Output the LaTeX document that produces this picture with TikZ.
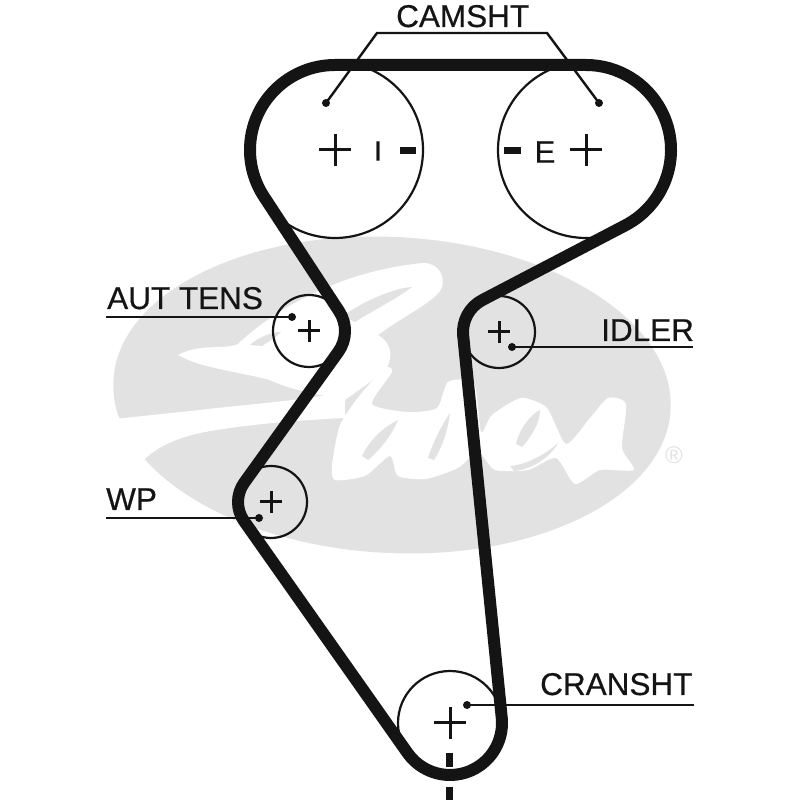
\documentclass[tikz,border=0pt]{standalone}
\usepackage{fontspec}
\setmainfont{Liberation Sans}
\newfontfamily\partfont[FakeBold=0.5]{Liberation Sans}
\usetikzlibrary{calc}
\definecolor{logogrey}{RGB}{226, 226, 226}
\definecolor{inkblack}{RGB}{20, 20, 20}
\newcommand{\crossmark}[2]{\draw[markline] ([xshift=-#2pt]#1.center) -- ([xshift=#2pt]#1.center) ([yshift=-#2pt]#1.center) -- ([yshift=#2pt]#1.center);}
\tikzset{
    pulley/.style={draw=inkblack, circle, line width=2.2pt, inner sep=0pt, outer sep=0pt},
    beltline/.style={draw=inkblack, line width=12pt, line join=round},
    markline/.style={draw=inkblack, line width=3pt},
    leader/.style={draw=inkblack, line width=2.4pt},
    leaderdot/.style={circle, fill=inkblack, inner sep=0pt, minimum size=8pt},
    partlabel/.style={anchor=base west, inner sep=0pt, text=inkblack, font=\partfont\fontsize{31.5}{31.5}\selectfont},
    sidemark/.style={draw=inkblack, line width=7pt}
}
\begin{document}
\begin{tikzpicture}[x=1pt, y=1pt]
    \useasboundingbox[fill=white] (0,0) rectangle (800,800);

    \fill[logogrey, rotate around={-3:(392,405)}] (392,405) ellipse [x radius=279pt, y radius=158pt];
    \begin{scope}[shift={(0,800)}, yscale=-1]
        \fill[white] (178,355) .. controls (200,343) and (225,350) .. (238,344)
            .. controls (265,318) and (330,272) .. (423,263)
            .. controls (440,263) and (445,278) .. (442,287)
            .. controls (438,300) and (405,315) .. (378,335)
            .. controls (395,345) and (392,362) .. (384,372)
            -- (345,400) .. controls (320,395) and (290,390) .. (270,380)
            .. controls (240,372) and (200,368) .. (178,355) -- cycle;
        \fill[logogrey] (343,316) .. controls (365,300) and (395,288) .. (412,287)
            .. controls (395,300) and (370,312) .. (355,322) -- cycle;
        \fill[logogrey] (250,345) .. controls (258,338) and (270,332) .. (281,332)
            .. controls (275,338) and (268,342) .. (262,346) -- cycle;
        \fill[white] (105,420) -- (200,410) .. controls (240,405) and (290,402) .. (345,392)
            -- (345,418) .. controls (300,420) and (240,425) .. (200,433)
            .. controls (170,440) and (150,450) .. (135,470) -- (105,470) -- cycle;
        \fill[white] plot[smooth cycle, tension=0.4] coordinates {
            (385,368) (360,395) (340,425) (332,465) (335,480) (365,476) (390,456)
            (398,476) (426,479) (458,468) (478,452) (495,470) (528,470) (556,458)
            (575,484) (600,470) (634,470) (622,448) (626,404) (608,398) (590,418)
            (566,444) (547,408) (521,398) (492,415) (481,432) (474,383) (448,382)
            (437,408) (408,412) (372,404) (392,372)};
        \fill[logogrey] (362,456) .. controls (370,440) and (382,428) .. (398,420)
            .. controls (392,435) and (380,450) .. (368,460) -- cycle;
        \fill[logogrey] (428,458) .. controls (434,440) and (442,425) .. (450,413)
            .. controls (448,430) and (442,448) .. (434,460) -- cycle;
        \fill[logogrey] (516,444) .. controls (520,428) and (530,415) .. (540,410)
            .. controls (540,424) and (530,438) .. (522,447) -- cycle;
        \fill[logogrey] (510,466) .. controls (525,465) and (545,455) .. (558,443)
            .. controls (550,458) and (530,470) .. (514,471) -- cycle;
    \end{scope}
    \node[text=logogrey, font=\fontsize{24}{24}\selectfont, inner sep=0pt] (regmark) at (674,345) {®};

    \node[pulley, minimum size=176pt] (camI) at (335,650) {};
    \node[pulley, minimum size=176pt] (camE) at (586,650) {};
    \node[pulley, minimum size=72pt] (tens) at (309,469) {};
    \node[pulley, minimum size=72pt] (idler) at (499,468) {};
    \node[pulley, minimum size=72pt] (wpump) at (271,298) {};
    \node[pulley, minimum size=104pt] (crank) at (450,77) {};

    \draw[beltline] ([shift={(90:85)}]camI.center) arc[start angle=90, end angle=213.25, radius=85pt]
        -- ([shift={(33.25:36)}]tens.center) arc[start angle=33.25, end angle=-35.73, radius=36pt]
        -- ([shift={(144.27:33)}]wpump.center) arc[start angle=144.27, end angle=215.17, radius=33pt]
        -- ([shift={(215.17:52)}]crank.center) arc[start angle=215.17, end angle=365.76, radius=52pt]
        -- ([shift={(185.76:36)}]idler.center) arc[start angle=185.76, end angle=117.59, radius=36pt]
        -- ([shift={(-62.41:85)}]camE.center) arc[start angle=-62.41, end angle=90, radius=85pt]
        -- cycle;

    \crossmark{camI}{16}
    \crossmark{camE}{16}
    \crossmark{tens}{11}
    \crossmark{idler}{11}
    \crossmark{wpump}{11}
    \crossmark{crank}{16}

    \node[partlabel] (camshtlabel) at (396,773) {CAMSHT};
    \node[partlabel] (tenslabel) at (107,491) {AUT TENS};
    \node[partlabel] (wplabel) at (106,290) {WP};
    \node[partlabel] (idlerlabel) at (601,459) {IDLER};
    \node[partlabel] (cranklabel) at (540,105) {CRANSHT};
    \node[anchor=center, inner sep=0pt, text=inkblack, font=\partfont\fontsize{28}{28}\selectfont] (camIletter) at (378,649) {I};
    \node[anchor=center, inner sep=0pt, text=inkblack, font=\partfont\fontsize{31}{31}\selectfont] (camEletter) at (545,648) {E};

    \draw[sidemark] (400,649) -- (416,649);
    \draw[sidemark] (504,649) -- (521,649);
    \draw[sidemark] (449,47) -- (449,33);
    \draw[sidemark] (449,13) -- (449,0);

    \node[leaderdot] (camIdot) at (326,697) {};
    \node[leaderdot] (camEdot) at (599,697) {};
    \node[leaderdot] (tensdot) at (292,483) {};
    \node[leaderdot] (idlerdot) at (512,453) {};
    \node[leaderdot] (wpdot) at (259,282) {};
    \node[leaderdot] (crankdot) at (467,95) {};

    \coordinate (camIknee) at (377,767);
    \coordinate (camEknee) at (547,767);
    \coordinate (tensend) at (106,483);
    \coordinate (idlerend) at (693,453);
    \coordinate (wpend) at (106,282);
    \coordinate (crankend) at (694,95);

    \draw[leader] (camIdot.center) -- (camIknee) -- (camEknee) -- (camEdot.center);
    \draw[leader] (tensdot.center) -- (tensend);
    \draw[leader] (idlerdot.center) -- (idlerend);
    \draw[leader] (wpdot.center) -- (wpend);
    \draw[leader] (crankdot.center) -- (crankend);
\end{tikzpicture}
\end{document}
